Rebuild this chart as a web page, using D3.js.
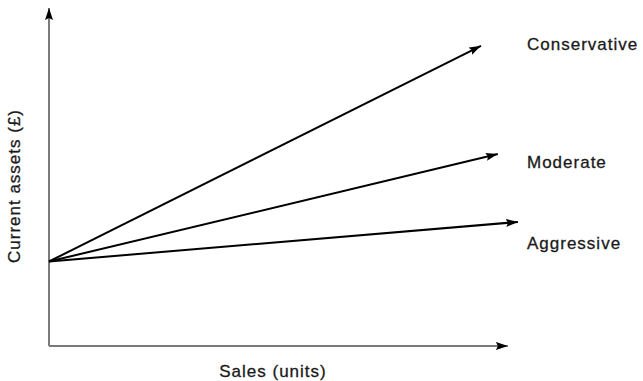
<!DOCTYPE html>
<html>
<head>
<meta charset="utf-8">
<script src="https://cdn.jsdelivr.net/npm/d3@7"></script>
<style>
  html, body { margin: 0; padding: 0; background: #fff; }
  svg { display: block; }
  text { font-family: "Liberation Sans", Arial, sans-serif; fill: #1a1a1a; stroke: #1a1a1a; stroke-width: 0.3; }
</style>
</head>
<body>
<svg id="chart" width="643" height="381"></svg>
<script>
// ---- data (schematic: sales units vs current assets, arbitrary units) ----
const seriesNames = ["Conservative", "Moderate", "Aggressive"];
const startSales = 0;
const startAssets = 25;
const endSales = [90, 93.5, 97.7];
const endAssets = [88.8, 56.8, 36.7];
const labelAssets = [89.1, 54.4, 30.2];
const xAxisTitle = "Sales (units)";
const yAxisTitle = "Current assets (£)";
const xAxisMax = 95.6;
const yAxisMax = 100;

const svg = d3.select("#chart");
const x = d3.scaleLinear().domain([0, 100]).range([49, 529]);
const y = d3.scaleLinear().domain([0, 100]).range([346, 8]);

const defs = svg.append("defs");
function marker(id) {
  defs.append("marker")
    .attr("id", id)
    .attr("viewBox", "0 0 12 8")
    .attr("refX", 12).attr("refY", 4)
    .attr("markerWidth", 12).attr("markerHeight", 8)
    .attr("markerUnits", "userSpaceOnUse")
    .attr("orient", "auto")
    .append("path").attr("d", "M0,0 L12,4 L0,8 L2,4 Z").attr("fill", "#000");
}
marker("arrow");

// axes
svg.append("line")
  .attr("x1", x(0)).attr("y1", y(0)).attr("x2", x(0)).attr("y2", y(yAxisMax))
  .attr("stroke", "#7a7a7a").attr("stroke-width", 2)
  .attr("marker-end", "url(#arrow)");
svg.append("line")
  .attr("x1", x(0)).attr("y1", y(0)).attr("x2", x(xAxisMax)).attr("y2", y(0))
  .attr("stroke", "#7a7a7a").attr("stroke-width", 2)
  .attr("marker-end", "url(#arrow)");

// series lines
const rows = seriesNames.map((n, i) => ({ name: n, ex: endSales[i], ey: endAssets[i], ly: labelAssets[i] }));
svg.selectAll("line.series").data(rows).enter().append("line")
  .attr("class", "series")
  .attr("x1", x(startSales)).attr("y1", y(startAssets))
  .attr("x2", d => x(d.ex)).attr("y2", d => y(d.ey))
  .attr("stroke", "#000").attr("stroke-width", 2)
  .attr("marker-end", "url(#arrow)");

svg.selectAll("text.lbl").data(rows).enter().append("text")
  .attr("class", "lbl")
  .attr("x", 527)
  .attr("y", d => y(d.ly))
  .attr("dominant-baseline", "central")
  .attr("font-size", 17)
  .attr("letter-spacing", 1)
  .text(d => d.name);

svg.append("text")
  .attr("x", 273).attr("y", 377)
  .attr("text-anchor", "middle")
  .attr("font-size", 17).attr("letter-spacing", 1)
  .text(xAxisTitle);

svg.append("text")
  .attr("transform", "translate(20,186) rotate(-90)")
  .attr("text-anchor", "middle")
  .attr("font-size", 17).attr("letter-spacing", 1)
  .text(yAxisTitle);
</script>
</body>
</html>
